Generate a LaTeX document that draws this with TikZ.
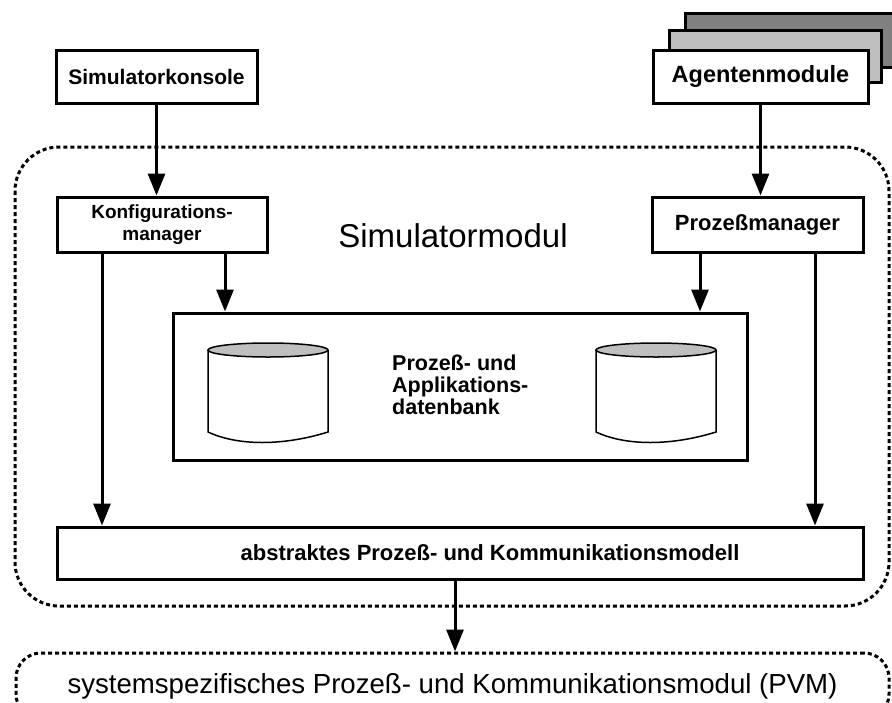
\documentclass[tikz,border=0pt]{standalone}
\usepackage{fontspec}
\setmainfont{Liberation Sans}
\usetikzlibrary{arrows.meta}

\tikzset{
  kasten/.style={draw, line width=3pt, fill=white, inner sep=0pt, font=\bfseries\fontsize{21}{25}\selectfont},
  pfeil/.style={line width=3pt, -{Triangle[length=22pt,width=17pt]}},
  punktrand/.style={line width=3pt, dash pattern=on 4pt off 3pt},
  tonne/.style={line width=1.5pt}
}

\begin{document}
\begin{tikzpicture}[x=1pt,y=-1pt]
  \clip (0,0) rectangle (892,702);

  %draw the dotted frames
  \draw[punktrand, rounded corners=44pt] (15,147) rectangle (889,606);
  \node[punktrand, draw, rounded corners=25pt, minimum width=873, minimum height=66,
        font=\fontsize{27.6}{32}\selectfont] (pvm) at (452.5,686)
        {systemspezifisches Prozeß- und Kommunikationsmodul (PVM)};

  %draw the stacked agent boxes
  \draw[line width=3pt, fill=gray] (685,13) rectangle (910,67);
  \draw[line width=3pt, fill=lightgray] (669,30) rectangle (881,82);

  %draw boxes
  \node[kasten, minimum width=201, minimum height=53] (konsole) at (156.5,76.5) {Simulatorkonsole};
  \node[kasten, minimum width=215, minimum height=53, font=\bfseries\fontsize{23.5}{27}\selectfont]
        (agenten) at (760.5,76.5) {Agentenmodule};
  \node[kasten, minimum width=210, minimum height=55, align=center,
        font=\bfseries\fontsize{19}{22}\selectfont] (konf) at (162,224.5) {Konfigurations-\\manager};
  \node[kasten, minimum width=211, minimum height=55, font=\bfseries\fontsize{22}{26}\selectfont]
        (prozman) at (757.5,224.5) {Prozeßmanager};
  \node[kasten, minimum width=574, minimum height=147] (db) at (460,386.5) {};
  \node[kasten, minimum width=806, minimum height=52] (abstrakt) at (460,553) {};

  %draw texts
  \node[font=\fontsize{33}{40}\selectfont, anchor=base] (simmod) at (453,247) {Simulatormodul};
  \node[font=\bfseries\fontsize{21.5}{22}\selectfont, anchor=west, align=left, inner sep=0pt] (dbtext) at (392,385)
        {Prozeß- und\\Applikations-\\datenbank};
  \node[font=\bfseries\fontsize{22}{26}\selectfont] (abstrakttext) at (490,553)
        {abstraktes Prozeß- und Kommunikationsmodell};

  %draw cylinders
  \foreach \cx in {268,656} {
    \draw[tonne, fill=white] (\cx-60,350) -- (\cx-60,432)
      .. controls (\cx-30,446) and (\cx+15,446) .. (\cx+60,432) -- (\cx+60,350);
    \draw[tonne, fill=lightgray] (\cx,350) ellipse (60 and 7);
  }

  %draw arrows
  \draw[pfeil] (konsole.south) -- (konsole.south |- konf.north);
  \draw[pfeil] (agenten.south) -- (agenten.south |- prozman.north);
  \draw[pfeil] ([xshift=-60]konf.south) -- ([xshift=-60]konf.south |- abstrakt.north);
  \draw[pfeil] ([xshift=63]konf.south) -- ([xshift=63]konf.south |- db.north);
  \draw[pfeil] ([xshift=-57.5]prozman.south) -- ([xshift=-57.5]prozman.south |- db.north);
  \draw[pfeil] ([xshift=57.5]prozman.south) -- ([xshift=57.5]prozman.south |- abstrakt.north);
  \draw[pfeil] ([xshift=-5]abstrakt.south) -- ([xshift=-5]abstrakt.south |- pvm.north);
\end{tikzpicture}
\end{document}
